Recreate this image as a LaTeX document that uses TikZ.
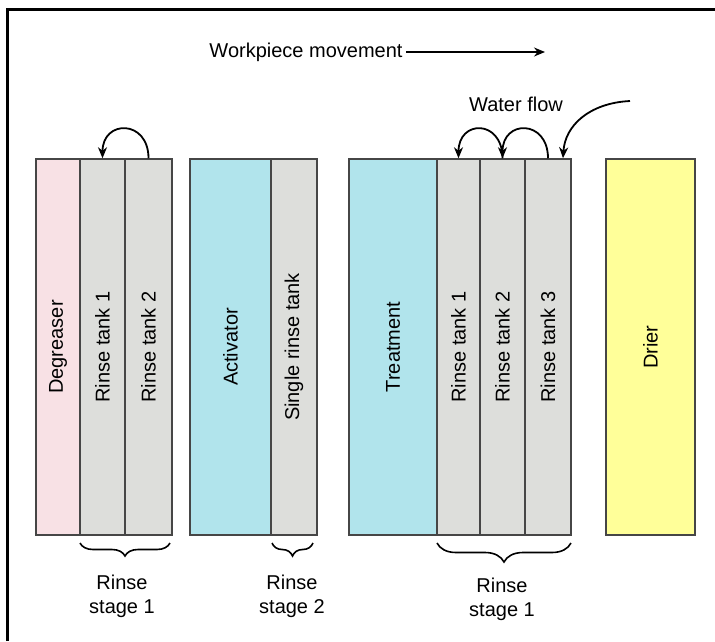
\documentclass[tikz,border=0pt]{standalone}
\usepackage{fontspec}
\setmainfont{Liberation Sans}
\usetikzlibrary{arrows.meta,decorations.pathreplacing}
\definecolor{tankP}{RGB}{248,225,229}
\definecolor{tankG}{RGB}{221,222,219}
\definecolor{tankC}{RGB}{177,228,236}
\definecolor{tankY}{RGB}{255,255,153}
\definecolor{tankE}{RGB}{70,70,70}

\begin{document}
\begin{tikzpicture}[x=1pt,y=-1pt,>={Stealth[length=11pt,width=9pt]},
  lbl/.style={font=\fontsize{20}{24}\selectfont},
  tank/.style={lbl,draw=tankE,line width=1.5pt,rotate=90,minimum width=376pt,inner sep=0pt},
  flow/.style={->,line width=1.8pt},
  brc/.style={decorate,decoration={brace,mirror,amplitude=#1},line width=1.6pt}]
\useasboundingbox[fill=white] (0,0) rectangle (715,641);
\draw[line width=2.2pt] (7.5,641)--(7.5,9.5)--(715,9.5);
\node[lbl] (wpm) at (306,52) {Workpiece movement};
\coordinate (wpmend) at (545,52);
\draw[->,line width=1.5pt] (wpm.east)--(wpmend);
\node[lbl] (wflow) at (516,104) {Water flow};
\node[tank,fill=tankP,minimum height=44pt] (deg) at (58,347) {Degreaser};
\node[tank,fill=tankG,minimum height=45pt] (rA1) at (102.5,347) {Rinse tank 1};
\node[tank,fill=tankG,minimum height=47pt] (rA2) at (148.5,347) {Rinse tank 2};
\node[tank,fill=tankC,minimum height=81pt] (act) at (230.5,347) {Activator};
\node[tank,fill=tankG,minimum height=46pt] (srt) at (294,347) {Single rinse tank};
\node[tank,fill=tankC,minimum height=88pt] (trt) at (393,347) {Treatment};
\node[tank,fill=tankG,minimum height=43pt] (rC1) at (458.5,347) {Rinse tank 1};
\node[tank,fill=tankG,minimum height=45pt] (rC2) at (502.5,347) {Rinse tank 2};
\node[tank,fill=tankG,minimum height=46pt] (rC3) at (548,347) {Rinse tank 3};
\node[tank,fill=tankY,minimum height=89pt] (dri) at (650.5,347) {Drier};
\draw[flow] (rA2.east) .. controls +(0,-39) and +(0,-39) .. (rA1.east);
\draw[flow] (rC2.east) .. controls +(0,-39) and +(0,-39) .. (rC1.east);
\draw[flow] (rC3.east) .. controls +(0,-39) and +(0,-39) .. (rC2.east);
\coordinate (inflow) at (630,101);
\draw[flow] (inflow) .. controls (590,103) and (565,125) .. ([xshift=15pt]rC3.east);
\draw[brc=13pt] (80,543)--(170,543);
\draw[brc=13pt] (272,543)--(313,543);
\draw[brc=19pt] (437,543)--(571,543);
\node[lbl,align=center] (stA) at (122,596) {Rinse\\stage 1};
\node[lbl,align=center] (stB) at (292,596) {Rinse\\stage 2};
\node[lbl,align=center] (stC) at (502,599) {Rinse\\stage 1};
\end{tikzpicture}
\end{document}
